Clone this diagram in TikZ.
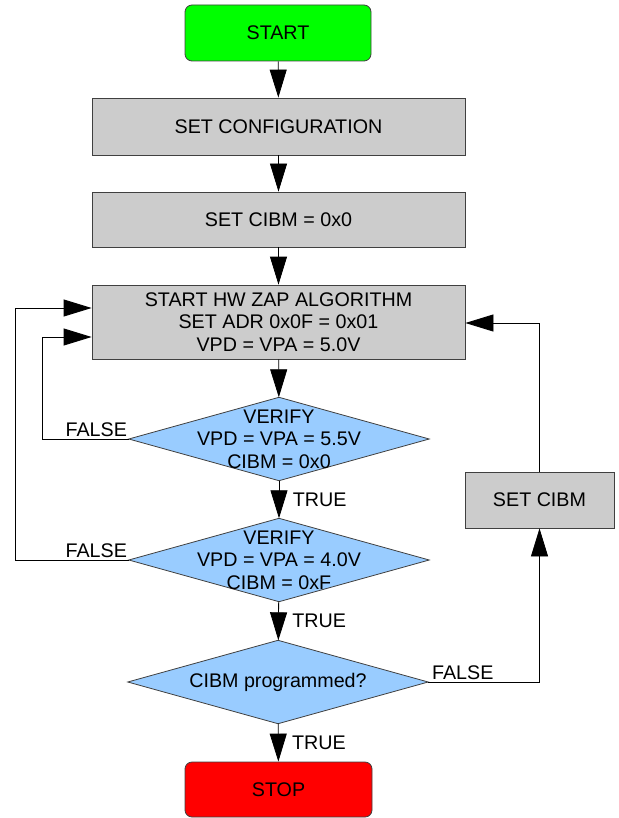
\documentclass[tikz,border=0pt]{standalone}
\usepackage{fontspec}
\setmainfont{Liberation Sans}
\usetikzlibrary{arrows.meta,backgrounds}
\definecolor{boxgray}{HTML}{CCCCCC}
\definecolor{diablue}{HTML}{99CCFF}
\definecolor{startgreen}{HTML}{00FF00}
\definecolor{stopred}{HTML}{FF0000}
\definecolor{edge}{HTML}{404040}
\begin{document}
\begin{tikzpicture}[x=1pt,y=-1pt,
 every node/.style={font=\fontsize{19.7}{22.5}\selectfont},
 box/.style={draw=edge, fill=boxgray, minimum width=373pt, align=center, inner sep=0pt, line width=0.8pt},
 term/.style={draw=edge, rounded corners=7pt, minimum width=186pt, minimum height=56pt, inner sep=0pt, line width=0.8pt},
 dia/.style={minimum width=300pt, minimum height=83pt, inner sep=0pt, align=center},
 diashape/.style={draw=edge, fill=diablue, line width=0.8pt},
 arr/.style={-{Triangle[length=28pt,width=17pt]}, line width=0.8pt},
 lab/.style={inner sep=1.5pt}]
\useasboundingbox (0,0) rectangle (618,818);
\node[term, fill=startgreen] (start) at (278,33) {START};
\node[box, minimum height=57pt] (cfg) at (278.5,126.5) {SET CONFIGURATION};
\node[box, minimum height=55pt] (cibm0) at (278.5,219.5) {SET CIBM = 0x0};
\node[box, minimum height=74pt] (zap) at (278.5,322) {START HW ZAP ALGORITHM\\SET ADR 0x0F = 0x01\\VPD = VPA = 5.0V};
\node[dia] (d1) at (279,439) {VERIFY\\VPD = VPA = 5.5V\\CIBM = 0x0};
\node[dia] (d2) at (279,560) {VERIFY\\VPD = VPA = 4.0V\\CIBM = 0xF};
\node[dia] (d3) at (278,682) {CIBM programmed?};
\node[term, fill=stopred, minimum height=55pt, minimum width=187pt] (stop) at (278.5,789.5) {STOP};
\node[box, minimum width=149pt, minimum height=56pt] (setc) at (539.5,500) {SET CIBM};
\begin{pgfonlayer}{background}
\foreach \d in {d1,d2,d3}
  \draw[diashape] (\d.north) -- (\d.east) -- (\d.south) -- (\d.west) -- cycle;
\end{pgfonlayer}
\draw[arr] (start) -- (cfg);
\draw[arr] (cfg) -- (cibm0);
\draw[arr] (cibm0) -- (zap);
\draw[arr] (zap) -- (d1);
\draw[arr] (d1) -- node[pos=0.5, anchor=west, xshift=12pt, lab] {TRUE} (d2);
\draw[arr] (d2) -- node[pos=0.5, anchor=west, xshift=12pt, lab] {TRUE} (d3);
\draw[arr] (d3) -- node[pos=0.5, anchor=west, xshift=12pt, lab] {TRUE} (stop);
\draw[arr] (d1.west) node[anchor=south east, lab] {FALSE} -- ++(-86,0) |- ([yshift=-15pt]zap.west);
\draw[arr] (d2.west) node[anchor=south east, lab] {FALSE} -- ++(-113,0) |- ([yshift=14pt]zap.west);
\draw[arr] (d3.east) node[anchor=south west, lab, xshift=2pt] {FALSE} -| (setc.south);
\draw[arr] (setc.north) |- ([yshift=-1pt]zap.east);
\end{tikzpicture}
\end{document}
